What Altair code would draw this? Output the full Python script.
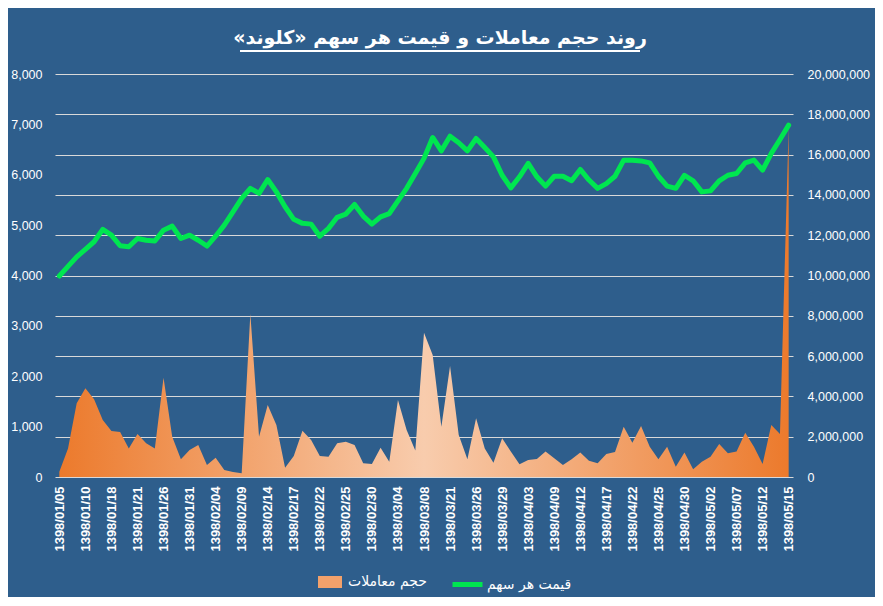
import json
import altair as alt
import pandas as pd

tick_labels = ["1398/01/05", "1398/01/10", "1398/01/18", "1398/01/21", "1398/01/26",
               "1398/01/31", "1398/02/04", "1398/02/09", "1398/02/14", "1398/02/17",
               "1398/02/22", "1398/02/25", "1398/02/30", "1398/03/04", "1398/03/08",
               "1398/03/21", "1398/03/26", "1398/03/29", "1398/04/03", "1398/04/09",
               "1398/04/12", "1398/04/17", "1398/04/22", "1398/04/25", "1398/04/30",
               "1398/05/02", "1398/05/07", "1398/05/12", "1398/05/15"]

price = [3990, 4180, 4370, 4520, 4670, 4915, 4800, 4590, 4570, 4735,
         4700, 4685, 4900, 4980, 4735, 4800, 4700, 4585, 4780, 5000,
         5265, 5530, 5730, 5630, 5905, 5660, 5365, 5115, 5035, 5020,
         4780, 4935, 5155, 5220, 5410, 5180, 5020, 5165, 5230, 5480,
         5730, 6025, 6325, 6740, 6475, 6765, 6635, 6475, 6720, 6540,
         6355, 5990, 5740, 5960, 6225, 5960, 5775, 5970, 5970, 5880,
         6105, 5895, 5730, 5825, 5970, 6290, 6290, 6275, 6235, 5970,
         5775, 5730, 5990, 5880, 5660, 5680, 5880, 5990, 6025, 6235,
         6290, 6090, 6425, 6700, 6985]

volume = [260000, 1420000, 3660000, 4400000, 3860000, 2830000, 2280000, 2230000, 1420000, 2130000,
          1670000, 1420000, 4930000, 2000000, 880000, 1340000, 1590000, 600000, 960000, 350000,
          250000, 180000, 8090000, 2000000, 3570000, 2580000, 460000, 1040000, 2300000, 1840000,
          1040000, 1010000, 1670000, 1750000, 1590000, 680000, 650000, 1450000, 760000, 3820000,
          2330000, 1310000, 7160000, 6050000, 2500000, 5510000, 2080000, 880000, 2910000, 1420000,
          710000, 1920000, 1260000, 630000, 840000, 890000, 1260000, 930000, 600000, 880000,
          1210000, 810000, 680000, 1140000, 1240000, 2500000, 1700000, 2530000, 1500000, 880000,
          1500000, 510000, 1210000, 380000, 760000, 1010000, 1640000, 1180000, 1260000, 2200000,
          1500000, 650000, 2580000, 2130000, 17400000]

# U+200F (right-to-left mark) keeps the closing guillemet inside the RTL run
title_text = "\u200fروند حجم معاملات و قیمت هر سهم «کلوند»\u200f"
vol_name = "حجم معاملات"
price_name = "قیمت هر سهم"

n = len(price)
df = pd.DataFrame({"idx": list(range(n)), "price": price, "volume": volume})

BG = "#2E5E8C"
WHITE = "#FFFFFF"
GRID = "#D9D9D9"
GREEN = "#00E650"
ORANGE = "#F2A16B"

label_expr = json.dumps(tick_labels) + "[round(datum.value / 3)]"

x_enc = alt.X(
    "idx:Q",
    scale=alt.Scale(domain=[-0.5, n - 0.5], nice=False, zero=False),
    axis=alt.Axis(
        values=list(range(0, n, 3)), labelExpr=label_expr, labelAngle=270,
        labelAlign="right", labelBaseline="middle", labelPadding=9,
        grid=False, ticks=False, domain=False, title=None,
        labelColor=WHITE, labelFont="Liberation Sans", labelFontWeight="bold",
        labelFontSize=13, labelOverlap=False,
    ),
)

gradient = alt.Gradient(
    gradient="linear", x1=0, y1=0, x2=1, y2=0,
    stops=[
        alt.GradientStop(color="#EC7A2C", offset=0),
        alt.GradientStop(color="#F8CCAD", offset=0.5),
        alt.GradientStop(color="#EC7A2C", offset=1),
    ],
)

area = alt.Chart(df).mark_area(color=gradient, interpolate="linear").encode(
    x=x_enc,
    y=alt.Y(
        "volume:Q",
        scale=alt.Scale(domain=[0, 20000000], nice=False),
        axis=alt.Axis(
            orient="right", values=list(range(0, 20000001, 2000000)), format=",.0f",
            grid=True, gridColor=GRID, gridWidth=1, ticks=False, domain=False,
            labelPadding=14, title=None, labelColor=WHITE,
            labelFont="Liberation Sans", labelFontSize=12.5,
        ),
    ),
)

legend_swatch = (
    alt.Chart(df)
    .transform_filter("false")
    .transform_calculate(s="'" + vol_name + "'")
    .mark_square()
    .encode(
        fill=alt.Fill(
            "s:N",
            scale=alt.Scale(domain=[vol_name], range=[ORANGE]),
            legend=alt.Legend(
                title=None, orient="none", legendX=263, legendY=496,
                symbolType="M-1,-0.5H1V0.5H-1Z", symbolSize=576,
                symbolStrokeWidth=0, symbolOpacity=1, labelOffset=6,
                labelColor=WHITE, labelFont="DejaVu Sans", labelFontSize=14,
            ),
        )
    )
)

line = (
    alt.Chart(df)
    .transform_calculate(p="'" + price_name + "'")
    .mark_line(strokeWidth=5, strokeJoin="round", strokeCap="round")
    .encode(
        x=x_enc,
        y=alt.Y(
            "price:Q",
            scale=alt.Scale(domain=[0, 8000], nice=False),
            axis=alt.Axis(
                orient="left", values=list(range(0, 8001, 1000)), format=",.0f",
                grid=False, ticks=False, domain=False, labelPadding=13,
                title=None, labelColor=WHITE, labelFont="Liberation Sans",
                labelFontSize=12.5,
            ),
        ),
        stroke=alt.Stroke(
            "p:N",
            scale=alt.Scale(domain=[price_name], range=[GREEN]),
            legend=alt.Legend(
                title=None, orient="none", legendX=395, legendY=493,
                symbolType="stroke", symbolSize=900, symbolStrokeWidth=5,
                labelOffset=2, labelColor=WHITE, labelFont="DejaVu Sans",
                labelFontSize=14,
            ),
        ),
    )
)

underline = alt.Chart(df).mark_rule(color=WHITE, strokeWidth=1.5).encode(
    x=alt.value(185), x2=alt.value(585), y=alt.value(-23)
)

chart = (
    alt.layer(area, legend_swatch, line, underline)
    .resolve_scale(y="independent")
    .properties(
        width=738,
        height=403,
        padding={"left": 47, "top": 66, "right": 82, "bottom": 120},
        autosize=alt.AutoSizeParams(type="none"),
        title=alt.TitleParams(
            text=title_text, color=WHITE, font="DejaVu Sans", fontSize=19,
            fontWeight="bold", anchor="middle", offset=2, dx=16,
        ),
        background=BG,
    )
    .configure_view(stroke=None)
)

chart.save("out.html", embed_options={"renderer": "svg", "actions": False})
